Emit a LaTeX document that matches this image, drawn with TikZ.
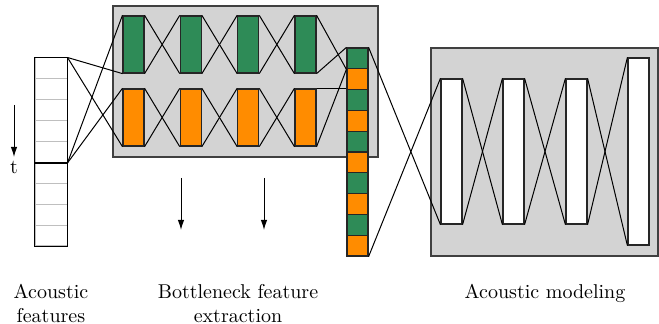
\documentclass[tikz,border=0pt]{standalone}
\usetikzlibrary{arrows.meta}
\definecolor{bngreen}{RGB}{46,139,87}
\definecolor{bnorange}{RGB}{255,140,0}
\definecolor{panel}{RGB}{211,211,211}
\begin{document}
\begin{tikzpicture}[x=0.5pt,y=-0.5pt,
  link/.style={line width=0.5pt},
  panelbox/.style={draw=black!75,fill=panel,line width=0.6pt},
  layer/.style={rectangle,draw=black!85,line width=0.6pt,inner sep=0pt,
    minimum width=10.5pt,minimum height=28.5pt},
  glayer/.style={layer,fill=bngreen},
  olayer/.style={layer,fill=bnorange},
  wlayer/.style={layer,fill=white},
  fcell/.style={rectangle,draw=black!25,line width=0.5pt,inner sep=0pt,
    minimum width=16pt,minimum height=10.44pt},
  scell/.style={rectangle,draw=black!85,line width=0.6pt,inner sep=0pt,
    minimum width=10.5pt,minimum height=10.4pt},
  flow/.style={line width=0.5pt,-{Latex[length=5pt,width=3.2pt]}},
  caption/.style={align=center,anchor=north,inner sep=0pt,font=\normalsize}]
\useasboundingbox (0,0) rectangle (659,324);

% panels
\node[panelbox,minimum width=132.5pt,minimum height=75.5pt,inner sep=0pt] (bnpanel) at (245.5,81.5) {};
\node[panelbox,minimum width=113.5pt,minimum height=104pt,inner sep=0pt] (ampanel) at (544.5,152) {};

% acoustic feature frames
\foreach \i in {0,...,8}
  \node[fcell] (a\i) at (51,{58+20.89*\i+10.44}) {};
\draw[line width=0.6pt] (a0.north west) rectangle (a8.south east);
\draw[line width=0.6pt] (a4.south west) -- (a4.south east);

% bottleneck network: two branches
\foreach \i/\x in {1/133.5,2/190.8,3/248.2,4/305.5}{
  \node[glayer] (g\i) at (\x,44.5) {};
  \node[olayer] (o\i) at (\x,117.5) {};
}

% stacked bottleneck features
\foreach \i in {0,...,9}{
  \pgfmathtruncatemacro{\odd}{mod(\i,2)}
  \ifnum\odd=0
    \node[scell,fill=bngreen] (s\i) at (357.5,{48+20.8*\i+10.4}) {};
  \else
    \node[scell,fill=bnorange] (s\i) at (357.5,{48+20.8*\i+10.4}) {};
  \fi
}

% acoustic model layers
\foreach \i/\x in {1/451.5,2/513.5,3/576.5}
  \node[wlayer,minimum height=72.5pt] (w\i) at (\x,151.5) {};
\node[wlayer,minimum height=93.5pt] (w4) at (638.5,151.5) {};

% input window to first layers
\draw[link] (a0.north east) -- (g1.south west);
\draw[link] (a0.north east) -- (o1.south west);
\draw[link] (a4.south east) -- (g1.north west);
\draw[link] (a4.south east) -- (o1.north west);

% full connections between layers
\foreach \i/\j in {1/2,2/3,3/4}{
  \draw[link] (g\i.north east) -- (g\j.south west);
  \draw[link] (g\i.south east) -- (g\j.north west);
  \draw[link] (o\i.north east) -- (o\j.south west);
  \draw[link] (o\i.south east) -- (o\j.north west);
  \draw[link] (w\i.north east) -- (w\j.south west);
  \draw[link] (w\i.south east) -- (w\j.north west);
}

% bottleneck outputs into the stacked vector
\draw[link] (g4.south east) -- (s0.north west);
\draw[link] (g4.north east) -- (s0.south west);
\draw[link] (o4.south east) -- (s0.south west);
\draw[link] (o4.north east) -- (o4.north east -| s0.west);

% stacked vector into the acoustic model
\draw[link] (s0.north east) -- (w1.south west);
\draw[link] (s9.south east) -- (w1.north west);

% time and processing arrows
\coordinate (t0) at (14,105);
\coordinate (t1) at (14,157);
\draw[flow] (t0) -- (t1);
\node[inner sep=0pt] (tlab) at (14,167) {t};
\coordinate (p0) at (181,178);
\coordinate (p1) at (181,230);
\coordinate (q0) at (264,178);
\coordinate (q1) at (264,230);
\draw[flow] (p0) -- (p1);
\draw[flow] (q0) -- (q1);

% captions
\node[caption] (capa) at (51,284) {Acoustic\\features};
\node[caption] (capb) at (238,284) {Bottleneck feature\\extraction};
\node[caption] (capc) at (545,284) {Acoustic modeling};
\end{tikzpicture}
\end{document}
